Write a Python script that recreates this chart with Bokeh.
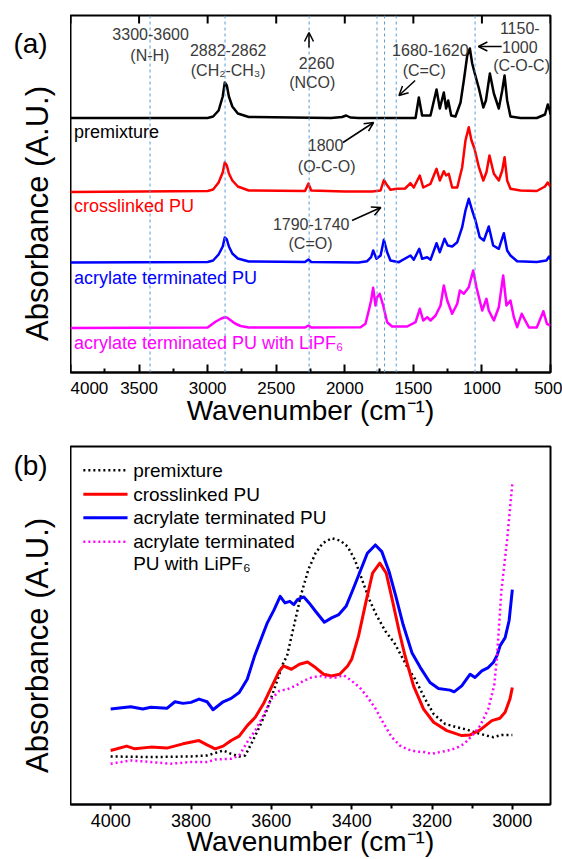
import math
from bokeh.plotting import figure
from bokeh.models import Range1d, FixedTicker, Label, Arrow, OpenHead, Span
from bokeh.layouts import column, row
from bokeh.embed import file_html
from bokeh.resources import INLINE

# ---------------- data: panel (a) full spectra (offset, arbitrary units) -------------
A_TICKS = [4000, 3500, 3000, 2500, 2000, 1500, 1000, 500]
A_MINOR = [3750, 3250, 2750, 2250, 1750, 1250, 750]
A_MARKERS = [3420, 2873, 2260, 1765, 1710, 1625, 1050]

A_PREMIX_WN = [4000, 3000, 2960, 2920, 2890, 2875, 2860, 2845, 2820, 2780, 2700, 2100, 2020, 1990, 1960,
               1900, 1800, 1500, 1484, 1460, 1436, 1375, 1331, 1307, 1278, 1261, 1246, 1224, 1193, 1156,
               1132, 1107, 1088, 1071, 1054, 1022, 990, 971, 942, 913, 877, 852, 835, 816, 792, 719, 600,
               540, 520, 505, 500]
A_PREMIX = [254.5, 254.5, 256, 262, 276, 290, 287, 276, 266, 259, 255.5, 254.5, 255.5, 257, 255,
            254.5, 254.5, 254.5, 254.5, 275, 257, 257, 283, 264, 280, 264, 272, 257, 256, 270,
            292, 317, 324, 309, 300, 284, 265, 272, 299, 279, 264, 282, 297, 272, 256, 254.5, 254.5,
            258, 268, 262, 258]

A_CROSS_WN = [4000, 3000, 2960, 2920, 2890, 2875, 2860, 2845, 2820, 2780, 2700, 2290, 2265, 2245, 2000,
              1800, 1739, 1715, 1700, 1667, 1618, 1560, 1521, 1497, 1453, 1428, 1375, 1331, 1307, 1278,
              1261, 1242, 1217, 1180, 1144, 1120, 1096, 1076, 1054, 1022, 990, 967, 945, 913, 877, 852,
              835, 816, 792, 719, 600, 540, 520, 500]
A_CROSS = [180.5, 181.5, 183, 190, 200, 210, 207, 199, 192, 186, 182, 181.5, 189, 182, 181,
           181, 182, 192.5, 189, 182.7, 183.7, 184, 189.3, 185, 197, 185, 188.7, 203.7, 192, 201.3,
           197, 198.7, 185, 185, 205.3, 232, 245.3, 232, 223.7, 205.3, 192, 200.3, 217, 198.7, 192, 202,
           215.3, 192, 183.7, 182, 181.5, 186, 190, 186]

A_ACRYL_WN = [4000, 3000, 2960, 2920, 2890, 2875, 2860, 2845, 2820, 2780, 2700, 2290, 2265, 2245, 1900,
              1837, 1808, 1793, 1769, 1739, 1715, 1691, 1667, 1606, 1521, 1497, 1457, 1436, 1399, 1375,
              1331, 1307, 1273, 1249, 1217, 1180, 1144, 1120, 1096, 1071, 1047, 1016, 986, 950, 918, 877,
              840, 816, 792, 743, 600, 530, 510, 500]
A_ACRYL = [110, 110.5, 112, 118, 126, 135, 133, 126, 119, 114, 111, 110.5, 113, 110.5, 110,
           111.3, 115.3, 122, 113.7, 117, 132.7, 120.3, 112, 110.3, 117, 112.7, 123.7, 113.7, 115.3, 112.7,
           129.3, 120.3, 133.7, 127, 126, 130.3, 145.3, 162, 173.7, 162, 152, 135.3, 132, 146, 127, 123.7,
           139.3, 122, 117, 111.3, 110.5, 112, 116, 113]

A_LIPF_WN = [4000, 3000, 2980, 2940, 2900, 2880, 2860, 2840, 2800, 2760, 2700, 2290, 2265, 2245, 1885,
             1849, 1825, 1808, 1793, 1776, 1764, 1745, 1720, 1691, 1655, 1545, 1484, 1453, 1428, 1399,
             1375, 1338, 1302, 1278, 1253, 1217, 1180, 1161, 1132, 1096, 1064, 1040, 998, 967, 950, 913,
             877, 845, 821, 792, 767, 743, 710, 657, 600, 552, 526, 500]
A_LIPF = [44.5, 45, 47, 51, 54, 55, 55, 53, 49, 46.5, 45, 45, 47, 45, 45.3,
          48.7, 62, 72, 84.7, 67, 75.3, 78.7, 67, 50.3, 46, 46, 50.3, 63.7, 52, 55.3,
          52, 57, 67, 87, 72, 58.7, 68.7, 82, 78.7, 85.3, 102, 85.3, 62, 73.7, 62, 52,
          65.3, 97, 67, 72, 55.3, 45.3, 58.7, 45, 45, 61.3, 48.7, 47]

# ---------------- data: panel (b) N-H region -------------
B_TICKS = [4000, 3800, 3600, 3400, 3200, 3000]
B_MINOR = [3900, 3700, 3500, 3300, 3100]

B_PREMIX_WN = [4000, 3900, 3800, 3760, 3740, 3720, 3700, 3680, 3665, 3650, 3630, 3610, 3590, 3570, 3561,
               3544, 3526, 3508, 3490, 3472, 3450, 3428, 3410, 3392, 3374, 3356, 3339, 3316, 3294, 3276,
               3263, 3242, 3217, 3196, 3167, 3138, 3113, 3089, 3064, 3047, 3027, 3000]
B_PREMIX = [48.3, 47.7, 48.3, 49.3, 51.7, 54.3, 51, 48.3, 49.3, 61, 77.7, 96, 119.3, 142.7, 149.3,
            179.3, 211, 236, 252.7, 262.7, 267.7, 265.3, 259.3, 246, 226, 206, 191, 174.3, 162.7, 149.3,
            139.3, 126, 106, 91, 81, 77.7, 75.3, 72, 69.3, 67.7, 70, 70]

B_CROSS_WN = [4000, 3960, 3940, 3900, 3860, 3820, 3780, 3760, 3740, 3720, 3700, 3680, 3660, 3640, 3620,
              3600, 3580, 3570, 3550, 3530, 3510, 3490, 3470, 3450, 3430, 3410, 3400, 3383, 3365, 3348,
              3330, 3314, 3299, 3281, 3267, 3246, 3221, 3196, 3163, 3126, 3105, 3080, 3051, 3031, 3018,
              3006, 3000]
B_CROSS = [54.3, 58.7, 56, 57.7, 56.7, 61, 64.3, 60, 56, 58.7, 64.3, 68.7, 79.3, 87.7, 101,
           117.7, 134.3, 139.3, 136, 141, 143.3, 137.7, 131, 129.3, 131, 139.3, 146, 169.3, 202.7, 232.7,
           242.7, 232.7, 206, 172.7, 149.3, 119.3, 96, 82.7, 74.3, 69.3, 70, 75, 84.3, 86.7, 92.7,
           106, 117.7]

B_ACRYL_WN = [4000, 3950, 3920, 3900, 3860, 3840, 3820, 3800, 3780, 3760, 3745, 3720, 3700, 3680, 3660,
              3642, 3610, 3593, 3578, 3566, 3554, 3544, 3535, 3519, 3506, 3490, 3468, 3450, 3432, 3414,
              3397, 3379, 3361, 3341, 3325, 3307, 3290, 3272, 3250, 3229, 3205, 3184, 3155, 3145, 3126,
              3105, 3093, 3076, 3060, 3047, 3038, 3030, 3018, 3008, 3000]
B_ACRYL = [96, 98.3, 96, 97.7, 96.7, 103.3, 101.7, 102.7, 106, 103.3, 95.3, 103.3, 106.7, 112.7, 126,
           149, 182.7, 196, 209.3, 202.7, 204.3, 201, 206, 208.7, 202.7, 194.3, 183.3, 187.7, 191, 199.3,
           216, 234.3, 252.7, 261, 254.3, 234.3, 209.3, 181, 152.7, 137.7, 122.7, 116.7, 115, 113.3, 119.3,
           131, 127.7, 134.3, 137.7, 143, 150, 160, 167.7, 185, 216]

B_LIPF_WN = [4000, 3950, 3900, 3850, 3800, 3760, 3740, 3700, 3680, 3660, 3640, 3620, 3600, 3580, 3560,
             3540, 3520, 3500, 3480, 3460, 3440, 3420, 3400, 3380, 3360, 3340, 3320, 3300, 3280, 3260,
             3240, 3220, 3200, 3180, 3160, 3140, 3120, 3100, 3080, 3060, 3045, 3038, 3027, 3013, 3000]
B_LIPF = [41, 44.3, 42.7, 41, 42.7, 42.7, 45.3, 46, 49.3, 62.7, 74.3, 89.3, 106, 114.3, 116,
          119.3, 124.3, 127.7, 129.3, 127.7, 127.7, 130, 124.3, 117.7, 107.7, 96, 81, 67.7, 59.3, 55.3,
          53.3, 52.7, 51, 52.7, 54.3, 56.7, 61, 69.3, 79.3, 96, 120, 150, 216, 266, 323]

SERIES_NAMES = ["premixture", "crosslinked PU", "acrylate terminated PU",
                "acrylate terminated PU with LiPF\u2086"]
COLORS = ["#000000", "#ff0000", "#0000ff", "#ff00ff"]

FONT = "Liberation Sans"
ANN = "#3a3a3a"
DOT = "2 3"
YLABEL = "Absorbance (A.U.)"


def margin_fig(height, yspan, panel_tag, tag_y, ylab_y):
    """Narrow left strip (its frame lines up with the neighbouring plot's frame)."""
    m = figure(width=70, height=height, x_range=Range1d(0, 70), y_range=Range1d(0, yspan),
               output_backend="svg", toolbar_location=None, x_axis_location=None,
               y_axis_location=None, min_border=0, outline_line_color=None)
    m.grid.visible = False
    m.add_layout(Label(x=30, y=tag_y, text=panel_tag, text_font=FONT, text_font_size="28px",
                       text_color="black", text_align="center", text_baseline="middle"))
    m.add_layout(Label(x=37, y=ylab_y, text=YLABEL, angle=math.pi / 2, text_font=FONT,
                       text_font_size="31px", text_color="black", text_align="center",
                       text_baseline="middle"))
    return m


def style_xaxis(ax, ticks, minor, tick_in, tick_out, minor_in, minor_out, lab_size, lab_standoff,
                title_standoff):
    ax.ticker = FixedTicker(ticks=ticks, minor_ticks=minor)
    ax.major_tick_in = tick_in
    ax.major_tick_out = tick_out
    ax.minor_tick_in = minor_in
    ax.minor_tick_out = minor_out
    ax.major_tick_line_width = 2
    ax.minor_tick_line_width = 2
    ax.axis_line_width = 2
    ax.major_label_standoff = lab_standoff
    ax.major_label_text_font = FONT
    ax.major_label_text_font_size = lab_size
    ax.major_label_text_color = "black"
    ax.axis_label = "Wavenumber (cm\u207b\u00b9)"
    ax.axis_label_text_font = FONT
    ax.axis_label_text_font_size = "28px"
    ax.axis_label_text_font_style = "normal"
    ax.axis_label_text_color = "black"
    ax.axis_label_standoff = title_standoff


# ======================= panel (a) =======================
pa = figure(width=492, height=442, x_range=Range1d(4000, 500), y_range=Range1d(0, 357),
            output_backend="svg", toolbar_location=None, y_axis_location=None,
            min_border_left=0, min_border_right=12, min_border_top=15, min_border_bottom=70)
pa.grid.visible = False
pa.outline_line_color = "black"
pa.outline_line_width = 2
pa.background_fill_color = "white"
style_xaxis(pa.xaxis[0], A_TICKS, A_MINOR, 8, 0, 4, 0, "17px", 9, -2)

# inward ticks along the top edge of the frame
pa.segment(x0=A_TICKS, y0=[357] * len(A_TICKS), x1=A_TICKS, y1=[349] * len(A_TICKS),
           line_color="black", line_width=2)

for wn in A_MARKERS:
    pa.add_layout(Span(location=wn, dimension="height", line_color="#5b9bd5",
                       line_width=1, line_dash="3 3"))

for wns, vals, col in [(A_PREMIX_WN, A_PREMIX, COLORS[0]), (A_CROSS_WN, A_CROSS, COLORS[1]),
                       (A_ACRYL_WN, A_ACRYL, COLORS[2]), (A_LIPF_WN, A_LIPF, COLORS[3])]:
    pa.line(wns, vals, line_color=col, line_width=2.5, line_join="round")

for name, col, yv in zip(SERIES_NAMES, COLORS, [241, 167, 95, 30]):
    pa.add_layout(Label(x=3975, y=yv, text=name, text_color=col, text_font=FONT,
                        text_font_size="18px", text_baseline="middle", text_align="left"))


def ann(p, x, y, t, size="16px"):
    p.add_layout(Label(x=x, y=y, text=t, text_color=ANN, text_font=FONT, text_font_size=size,
                       text_align="center", text_baseline="middle"))


def arr(p, x0, y0, x1, y1):
    p.add_layout(Arrow(end=OpenHead(size=9, line_color="black", line_width=1.5),
                       x_start=x0, y_start=y0, x_end=x1, y_end=y1,
                       line_color="black", line_width=1.5))


ann(pa, 3416, 339, "3300-3600")
ann(pa, 3421, 317, "(N-H)")
ann(pa, 2850, 323, "2882-2862")
ann(pa, 2850, 302, "(CH\u2082-CH\u2083)")
ann(pa, 2205, 310, "2260")
ann(pa, 2237, 290, "(NCO)")
arr(pa, 2261, 325, 2261, 340)
ann(pa, 1376, 323, "1680-1620")
ann(pa, 1421, 302, "(C=C)")
arr(pa, 1487, 292, 1605, 277)
arr(pa, 856, 326, 1026, 326)
ann(pa, 724, 345, "1150-")
ann(pa, 724, 326, "1000")
ann(pa, 711, 307, "(C-O-C)")
ann(pa, 2140, 228, "1800")
ann(pa, 2132, 206, "(O-C-O)")
arr(pa, 2013, 230, 1790, 250)
ann(pa, 2245, 149, "1790-1740")
ann(pa, 2250, 129, "(C=O)")
arr(pa, 1947, 152, 1737, 165)

ma = margin_fig(442, 357, "(a)", 329, 159)

# ======================= panel (b) =======================
pb = figure(width=492, height=417, x_range=Range1d(4100, 2905), y_range=Range1d(0, 360),
            output_backend="svg", toolbar_location=None, y_axis_location=None,
            min_border_left=0, min_border_right=12, min_border_top=4, min_border_bottom=53)
pb.grid.visible = False
pb.outline_line_color = "black"
pb.outline_line_width = 2
pb.background_fill_color = "white"
style_xaxis(pb.xaxis[0], B_TICKS, B_MINOR, 0, 5, 0, 4, "18px", 4, -4)

styles = [("dotted", COLORS[0]), ("solid", COLORS[1]), ("solid", COLORS[2]), ("dotted", COLORS[3])]
for (wns, vals), (st, col) in zip([(B_PREMIX_WN, B_PREMIX), (B_CROSS_WN, B_CROSS),
                                    (B_ACRYL_WN, B_ACRYL), (B_LIPF_WN, B_LIPF)], styles):
    if st == "dotted":
        pb.line(wns, vals, line_color=col, line_width=2.5, line_dash=DOT)
    else:
        pb.line(wns, vals, line_color=col, line_width=3, line_join="round")

# legend (b)
leg_rows = [336, 312, 288.3, 264.3]
for (st, col), yv in zip(styles, leg_rows):
    if st == "dotted":
        pb.line([4068, 3958], [yv, yv], line_color=col, line_width=2.5, line_dash=DOT)
    else:
        pb.line([4068, 3958], [yv, yv], line_color=col, line_width=3)
leg_texts = ["premixture", "crosslinked PU", "acrylate terminated PU", "acrylate terminated"]
for t, yv in zip(leg_texts, leg_rows):
    pb.add_layout(Label(x=3944, y=yv, text=t, text_font=FONT, text_font_size="19px",
                        text_color="black", text_align="left", text_baseline="middle"))
pb.add_layout(Label(x=3944, y=242.7, text="PU with LiPF\u2086", text_font=FONT, text_font_size="19px",
                    text_color="black", text_align="left", text_baseline="middle"))

mb = margin_fig(417, 360, "(b)", 341, 160)

layout = column(row(ma, pa, spacing=0), row(mb, pb, spacing=0), spacing=0)
open("out.html", "w").write(file_html(layout, INLINE))
